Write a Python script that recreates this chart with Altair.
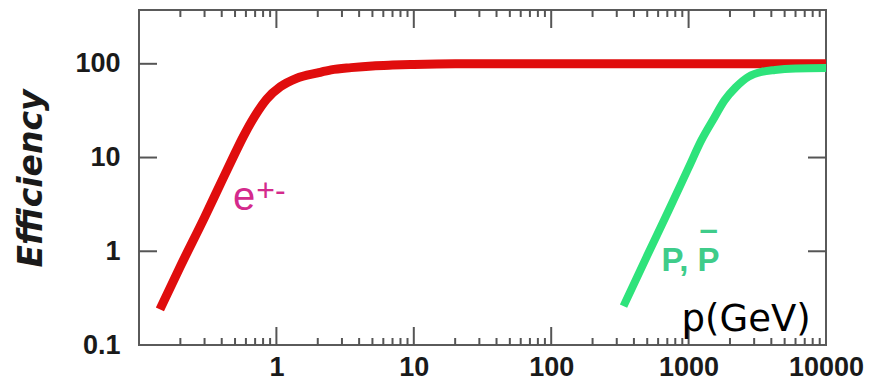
import altair as alt
import pandas as pd

# ---- data ----
red_p = [0.142, 0.2, 0.3, 0.4, 0.5, 0.574, 0.7, 0.85, 1.07, 1.4, 2.0, 2.5, 3.5, 5.0, 7.0, 10, 20, 100, 1000, 10000]
red_eff = [0.24, 0.69, 2.3, 5.6, 11.1, 16.7, 28, 42, 57, 70, 80, 86, 91, 95, 97, 98.5, 100, 100, 100, 100]

green_p = [336, 500, 714, 1000, 1245, 1500, 1832, 2200, 2740, 3400, 4250, 6000, 10000]
green_eff = [0.26, 0.9, 2.7, 7.8, 15.5, 25, 41, 56, 73, 82, 86, 89, 90]

x_label_values = [1, 10, 100, 1000, 10000]
y_label_values = [0.1, 1, 10, 100]
y_left_tick_values = [1, 10, 100]
y_right_tick_values = [1, 10, 100]
x_major_ticks = [1, 10, 100, 1000]
x_minor_ticks = [m * d for d in [0.1, 1, 10, 100, 1000] for m in range(2, 10)]

x_domain = [0.1, 10000]
y_domain = [0.1, 375]

e_label = ["e"];      e_p = [0.583];  e_eff = [2.73]
sup_label = ["+-"];   sup_p = [0.714]; sup_eff = [3.4]
pp_label = ["P, P"];  pp_p = [635];   pp_eff = [0.61]
bar_label = ["–"];    bar_p = [1400]; bar_eff = [1.33]
unit_label = ["p(GeV)"]; unit_p = [889]; unit_eff = [0.141]

W, H = 687, 335
MAJOR, MINOR = 18, 7
TICK_COLOR = "#555555"

red_df = pd.DataFrame({"p": red_p, "eff": red_eff})
green_df = pd.DataFrame({"p": green_p, "eff": green_eff})


def lab_df(t, p, e):
    return pd.DataFrame({"t": t, "p": p, "eff": e})


xs = alt.Scale(type="log", domain=x_domain, nice=False)
ys = alt.Scale(type="log", domain=y_domain, nice=False)

# one shared definition per axis, given identically to every layer
x_axis = alt.Axis(orient="bottom", values=x_label_values, format="~g",
                  ticks=False, tickSize=0, domain=False, grid=False, title=None,
                  labelFont="Liberation Sans", labelFontWeight="bold",
                  labelFontSize=27, labelColor="#1a1a1a", labelPadding=9,
                  labelFlush=False, labelOverlap=False)
y_axis = alt.Axis(orient="left", values=y_label_values, format="~g",
                  ticks=False, tickSize=0, domain=False, grid=False,
                  title="Efficiency", titleFont="DejaVu Sans",
                  titleFontWeight="bold", titleFontStyle="italic",
                  titleFontSize=33, titleColor="#1a1a1a", titleAngle=270,
                  titleBaseline="middle", titleAlign="center",
                  titleX=-108, titleY=168,
                  labelFont="Liberation Sans", labelFontWeight="bold",
                  labelFontSize=27, labelColor="#1a1a1a", labelPadding=19,
                  labelFlush=False, labelOverlap=False)


def X(field):
    return alt.X(field, type="quantitative", scale=xs, axis=x_axis)


def Y(field):
    return alt.Y(field, type="quantitative", scale=ys, axis=y_axis)


# ---- inward ticks (positions through the scales) ----
xmaj_df = pd.DataFrame({"p": x_major_ticks})
xmin_df = pd.DataFrame({"p": x_minor_ticks})
yl_df = pd.DataFrame({"eff": y_left_tick_values})
yr_df = pd.DataFrame({"eff": y_right_tick_values})


def xticks(df, y0, y1):
    return alt.Chart(df).mark_rule(color=TICK_COLOR, strokeWidth=2).encode(
        x=X("p"), y=alt.value(y0), y2=alt.value(y1))


def yticks(df, x0, x1):
    return alt.Chart(df).mark_rule(color=TICK_COLOR, strokeWidth=2).encode(
        y=Y("eff"), x=alt.value(x0), x2=alt.value(x1))


ticks = [
    xticks(xmaj_df, H, H - MAJOR), xticks(xmin_df, H, H - MINOR),
    xticks(xmaj_df, 0, MAJOR), xticks(xmin_df, 0, MINOR),
    yticks(yl_df, 0, MAJOR), yticks(yr_df, W, W - MAJOR),
]

red = alt.Chart(red_df).mark_line(color="#e00d0d", strokeWidth=9, strokeCap="butt",
                                  interpolate="monotone").encode(x=X("p"), y=Y("eff"))
green = alt.Chart(green_df).mark_line(color="#2ee37b", strokeWidth=8, strokeCap="butt",
                                      interpolate="monotone").encode(x=X("p"), y=Y("eff"))


def label(df, **kw):
    return alt.Chart(df).mark_text(baseline="alphabetic", **kw).encode(
        x=X("p"), y=Y("eff"), text="t:N")


e_txt = label(lab_df(e_label, e_p, e_eff), font="Liberation Sans", fontSize=40,
              color="#d42a8c", align="center")
sup_txt = label(lab_df(sup_label, sup_p, sup_eff), font="Liberation Sans", fontSize=32,
                color="#d42a8c", align="left")
pp_txt = label(lab_df(pp_label, pp_p, pp_eff), font="Liberation Sans", fontSize=33,
               fontWeight="bold", color="#3fcc8a", align="left")
bar_txt = label(lab_df(bar_label, bar_p, bar_eff), font="Liberation Sans", fontSize=33,
                fontWeight="bold", color="#3fcc8a", align="center")
unit_txt = label(lab_df(unit_label, unit_p, unit_eff), font="DejaVu Sans", fontSize=37,
                 color="#000000", align="left")

chart = alt.layer(
    *ticks, red, green, e_txt, sup_txt, pp_txt, bar_txt, unit_txt
).properties(
    width=W, height=H,
    autosize=alt.AutoSizeParams(type="none"),
    padding={"left": 131, "top": 2, "right": 44, "bottom": 36},
    background="white",
).configure_view(
    stroke="#5a5a5a", strokeWidth=2
)

chart.save("out.html", embed_options={"renderer": "svg", "actions": False})
